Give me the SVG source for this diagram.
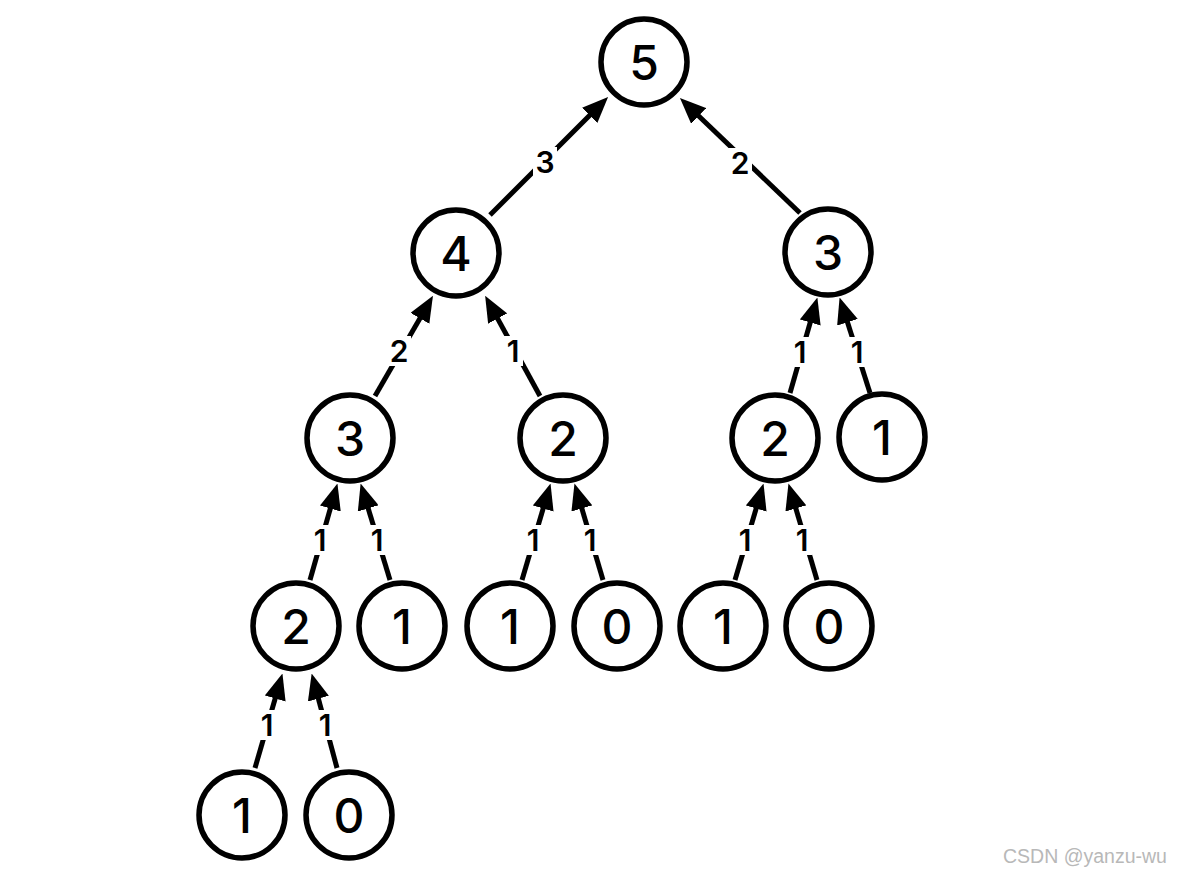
<svg xmlns="http://www.w3.org/2000/svg" width="1177" height="874" viewBox="0 0 1177 874">
<style>
.node circle{fill:#fff;stroke:#000;stroke-width:5.5}
.node text{font-family:Inter,"Liberation Sans",sans-serif;font-weight:500;font-size:48px;fill:#000;text-anchor:middle;dominant-baseline:central}
.edge line{stroke:#000;stroke-width:5}
.lbl rect{fill:#fff}
.lbl text{font-family:Inter,"Liberation Sans",sans-serif;font-weight:600;font-size:30px;fill:#000;text-anchor:middle;dominant-baseline:central}
.wm{font-family:"Liberation Sans",Arial,sans-serif;font-size:19.5px;fill:#b8b8b8}
</style>
<defs>
<marker id="ah" markerUnits="userSpaceOnUse" markerWidth="26" markerHeight="22" viewBox="0 0 24 20" refX="6" refY="10" orient="auto">
<path d="M0,0 L24,10 L0,20 z" fill="#000"/>
</marker>
</defs>
<rect width="1177" height="874" fill="#fff"/>
<g id="connectors" class="edge">
<line x1="490" y1="215" x2="594.3" y2="110.7" marker-end="url(#ah)"/>
<line x1="800" y1="213" x2="694" y2="111.5" marker-end="url(#ah)"/>
<line x1="375" y1="396" x2="423.2" y2="312.7" marker-end="url(#ah)"/>
<line x1="540" y1="396" x2="494.5" y2="312.9" marker-end="url(#ah)"/>
<line x1="790" y1="393" x2="812" y2="316.3" marker-end="url(#ah)"/>
<line x1="870" y1="393" x2="845.5" y2="316.1" marker-end="url(#ah)"/>
<line x1="310" y1="580" x2="332.1" y2="502.3" marker-end="url(#ah)"/>
<line x1="390" y1="580" x2="366.3" y2="502.2" marker-end="url(#ah)"/>
<line x1="522" y1="580" x2="545" y2="502.3" marker-end="url(#ah)"/>
<line x1="603" y1="580" x2="580" y2="502.2" marker-end="url(#ah)"/>
<line x1="735" y1="580" x2="758" y2="502.3" marker-end="url(#ah)"/>
<line x1="817" y1="580" x2="794" y2="502.2" marker-end="url(#ah)"/>
<line x1="255" y1="768" x2="277" y2="692.3" marker-end="url(#ah)"/>
<line x1="337" y1="768" x2="316.7" y2="692.4" marker-end="url(#ah)"/>
<g class="lbl">
<rect x="533" y="147" width="24" height="30"/><text x="545" y="162">3</text>
<rect x="728" y="148" width="24" height="30"/><text x="740" y="163">2</text>
<rect x="387" y="336" width="24" height="30"/><text x="399" y="351">2</text>
<rect x="503" y="336" width="20" height="30"/><text x="513" y="351">1</text>
<rect x="790" y="337" width="20" height="30"/><text x="800" y="352">1</text>
<rect x="847" y="337" width="20" height="30"/><text x="857" y="352">1</text>
<rect x="310" y="525" width="20" height="30"/><text x="320" y="540">1</text>
<rect x="367" y="525" width="20" height="30"/><text x="377" y="540">1</text>
<rect x="523" y="525" width="20" height="30"/><text x="533" y="540">1</text>
<rect x="580" y="525" width="20" height="30"/><text x="590" y="540">1</text>
<rect x="735" y="525" width="20" height="30"/><text x="745" y="540">1</text>
<rect x="792" y="525" width="20" height="30"/><text x="802" y="540">1</text>
<rect x="257" y="710" width="20" height="30"/><text x="267" y="725">1</text>
<rect x="315" y="710" width="20" height="30"/><text x="325" y="725">1</text>
</g>
</g>
<g id="n5" class="node"><circle cx="644" cy="62" r="43"/><text x="644" y="62">5</text></g>
<g id="n4" class="node"><circle cx="456" cy="253" r="43"/><text x="456" y="253">4</text></g>
<g id="n3r" class="node"><circle cx="828" cy="252" r="43"/><text x="828" y="252">3</text></g>
<g id="n3l" class="node"><circle cx="350" cy="438" r="43"/><text x="350" y="438">3</text></g>
<g id="n2m" class="node"><circle cx="563" cy="438" r="43"/><text x="563" y="438">2</text></g>
<g id="n2r" class="node"><circle cx="775" cy="438" r="43"/><text x="775" y="438">2</text></g>
<g id="n1r" class="node"><circle cx="882" cy="437" r="43"/><text x="882" y="437">1</text></g>
<g id="n2l4" class="node"><circle cx="296" cy="626" r="43"/><text x="296" y="626">2</text></g>
<g id="n1a" class="node"><circle cx="402" cy="626" r="43"/><text x="402" y="626">1</text></g>
<g id="n1b" class="node"><circle cx="510" cy="626" r="43"/><text x="510" y="626">1</text></g>
<g id="n0b" class="node"><circle cx="617" cy="626" r="43"/><text x="617" y="626">0</text></g>
<g id="n1c" class="node"><circle cx="723" cy="626" r="43"/><text x="723" y="626">1</text></g>
<g id="n0c" class="node"><circle cx="829" cy="626" r="43"/><text x="829" y="626">0</text></g>
<g id="n1d" class="node"><circle cx="242" cy="815" r="43"/><text x="242" y="815">1</text></g>
<g id="n0d" class="node"><circle cx="349" cy="815" r="43"/><text x="349" y="815">0</text></g>
<text class="wm" x="1003" y="863">CSDN @yanzu-wu</text>
</svg>
